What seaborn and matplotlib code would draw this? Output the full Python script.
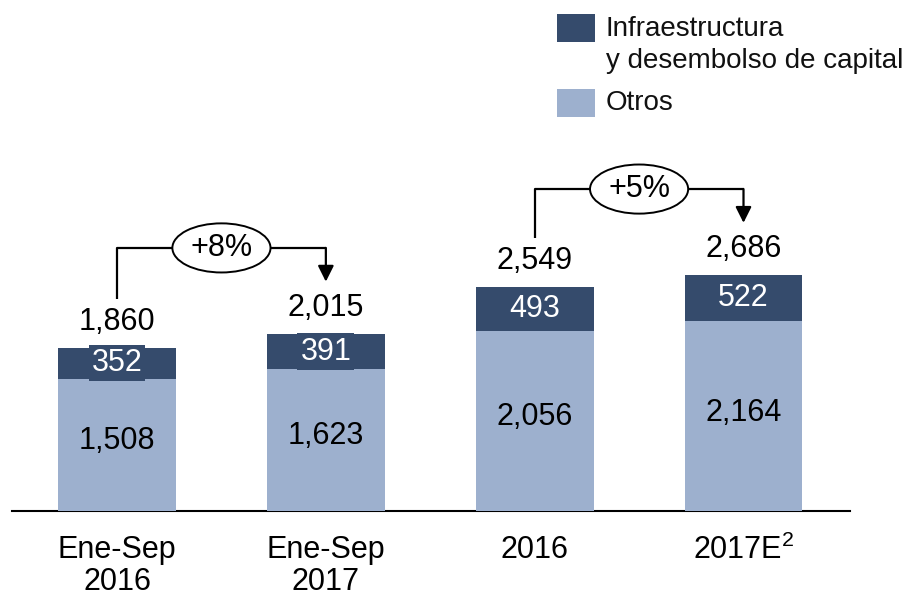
import matplotlib
matplotlib.use("Agg")
import matplotlib.pyplot as plt
import seaborn as sns
import pandas as pd
from matplotlib.patches import Ellipse, Rectangle

categories = ["Ene-Sep\n2016", "Ene-Sep\n2017", "2016", "2017E$^{2}$"]
otros = [1508, 1623, 2056, 2164]
infra = [352, 391, 493, 522]
totals = [1860, 2015, 2549, 2686]
growth_labels = ["+8%", "+5%"]
growth_pairs = [(0, 1), (2, 3)]

DARK = "#354B6C"
LIGHT = "#9DB0CE"

sns.set_theme(style="white")
plt.rcParams["font.family"] = ["Liberation Sans", "DejaVu Sans"]
plt.rcParams["mathtext.fontset"] = "custom"
plt.rcParams["mathtext.rm"] = "Liberation Sans"
plt.rcParams["mathtext.it"] = "Liberation Sans"
plt.rcParams["mathtext.default"] = "rm"

df = pd.DataFrame({"cat": categories, "otros": otros, "infra": infra, "total": totals})

fig = plt.figure(figsize=(9.16, 5.97), dpi=100)
ax = fig.add_axes([12 / 916, 86 / 597, 838 / 916, 511 / 597])

sns.barplot(data=df, x="cat", y="total", order=categories, color=DARK,
            width=0.565, saturation=1, ax=ax, zorder=2, linewidth=0, edgecolor="none")
sns.barplot(data=df, x="cat", y="otros", order=categories, color=LIGHT,
            width=0.565, saturation=1, ax=ax, zorder=3, linewidth=0, edgecolor="none")

ax.set_xlim(-0.503, 3.51)
ax.set_ylim(0, 5827)
for s in ["top", "right", "left"]:
    ax.spines[s].set_visible(False)
ax.spines["bottom"].set_color("black")
ax.spines["bottom"].set_linewidth(1.5)
ax.set_yticks([])
ax.set_xlabel("")
ax.set_ylabel("")
ax.tick_params(axis="x", length=0, pad=17, labelsize=22, colors="black")
for lab in ax.get_xticklabels():
    lab.set_linespacing(1.12)

fs = 22
for i in range(len(categories)):
    ax.text(i, otros[i] / 2 + 40, f"{otros[i]:,}", ha="center", va="center",
            fontsize=fs, color="black", zorder=5)
    ax.text(i, otros[i] + infra[i] / 2, f"{infra[i]:,}", ha="center", va="center",
            fontsize=fs, color="white", zorder=5,
            bbox=dict(boxstyle="square,pad=0.1", fc=DARK, ec="none"))
    ax.text(i, totals[i] + 300, f"{totals[i]:,}", ha="center", va="center",
            fontsize=fs, color="black", zorder=5)

# growth brackets
for (a, b), lab in zip(growth_pairs, growth_labels):
    y_start = totals[a] + 560
    y_h = max(totals[a], totals[b]) + 985
    y_tip = totals[b] + 600
    ax.plot([a, a, b, b], [y_start, y_h, y_h, y_h], color="black", lw=1.6,
            zorder=4, solid_capstyle="butt", clip_on=False)
    ax.annotate("", xy=(b, y_tip), xytext=(b, y_h),
                arrowprops=dict(arrowstyle="-|>,head_length=0.8,head_width=0.4",
                                color="black", lw=1.6, shrinkA=0, shrinkB=0),
                zorder=4, annotation_clip=False)
    cx = (a + b) / 2
    ax.add_patch(Ellipse((cx, y_h), 0.47, 560, fc="white", ec="black",
                         lw=1.4, zorder=6, clip_on=False))
    ax.text(cx, y_h, lab, ha="center", va="center", fontsize=fs,
            color="black", zorder=7)

# legend
fig.add_artist(Rectangle((557 / 916, 1 - 42 / 597), 38 / 916, 28 / 597,
                         transform=fig.transFigure, fc=DARK, ec="none"))
fig.add_artist(Rectangle((557 / 916, 1 - 117 / 597), 38 / 916, 28 / 597,
                         transform=fig.transFigure, fc=LIGHT, ec="none"))
fig.text(606 / 916, 1 - 36 / 597, "Infraestructura", fontsize=20,
         va="baseline", ha="left", color="#111111")
fig.text(606 / 916, 1 - 68 / 597, "y desembolso de capital", fontsize=20,
         va="baseline", ha="left", color="#111111")
fig.text(606 / 916, 1 - 110 / 597, "Otros", fontsize=20,
         va="baseline", ha="left", color="#111111")

fig.savefig("out.png", dpi=100)
